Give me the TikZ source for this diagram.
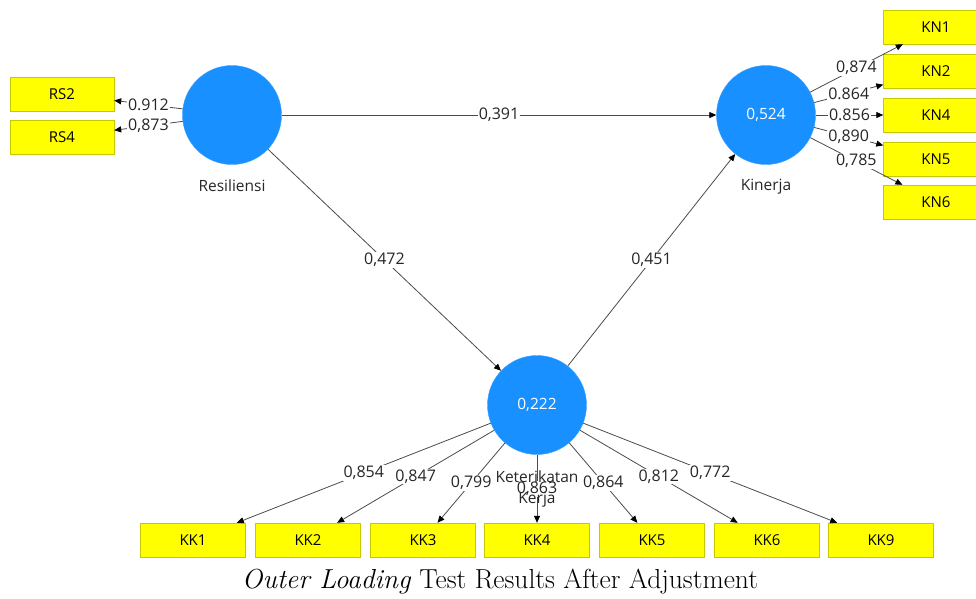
\documentclass[tikz,border=0pt]{standalone}
\usepackage{fontspec}
\newfontfamily\plsfont{Open Sans}
\usetikzlibrary{positioning,arrows.meta}
\definecolor{lvblue}{RGB}{24,144,255}
\definecolor{mvyellow}{RGB}{255,255,0}
\definecolor{mvborder}{RGB}{200,200,0}
\definecolor{pathgray}{RGB}{75,75,75}

\tikzset{
  latent/.style={circle, fill=lvblue, draw=lvblue!85!white, minimum size=99pt, inner sep=0pt,
    text=white, font=\plsfont\fontsize{15.5}{17}\selectfont},
  indicator/.style={rectangle, fill=mvyellow, draw=mvborder, minimum width=105pt, minimum height=34pt,
    inner sep=0pt, font=\plsfont\fontsize{15}{17}\selectfont},
  load/.style={fill=white, inner sep=1pt, text=black!85, font=\plsfont\fontsize{16}{18}\selectfont},
  lvname/.style={text=black!85, font=\plsfont\fontsize{15.5}{17}\selectfont},
  link/.style={draw=pathgray, line width=0.8pt, -{Triangle[length=7pt,width=6pt,color=black]}}
}

\begin{document}
\begin{tikzpicture}[x=1pt, y=-1pt]
        \path[use as bounding box, clip] (0,0) rectangle (976,598);
        % latent variables
        \node[latent] (res) at (232,115) {};
        \node[latent] (kin) at (766,115) {0,524};
        \node[latent] (ket) at (537,405) {0,222};
        % indicators
        \node[indicator, minimum width=104pt] (rs2) at (62,94) {RS2};
        \node[indicator, minimum width=104pt] (rs4) at (62,137) {RS4};
        \foreach \n/\y in {1/27,2/71,4/115,5/159,6/202} {
          \node[indicator] (kn\n) at (936,\y) {KN\n};
        }
        \foreach \n/\x in {1/193,2/308,3/423,4/537,5/652,6/767,9/881} {
          \node[indicator] (kk\n) at (\x,540) {KK\n};
        }
        % structural paths
        \draw[link] (res) -- node[load] {0,391} (kin);
        \draw[link] (res) -- node[load] {0,472} (ket);
        \draw[link] (ket) -- node[load] {0,451} (kin);
        % outer loadings
        \draw[link] (res) -- node[load] {0.912} (rs2);
        \draw[link] (res) -- node[load] {0,873} (rs4);
        \foreach \n/\v in {1/{0,874},2/{0.864},4/{0.856},5/{0,890},6/{0,785}} {
          \draw[link] (kin) -- node[load] {\v} (kn\n);
        }
        \foreach \n/\v in {1/{0,854},2/{0,847},3/{0,799},4/{0,863},5/{0,864},6/{0,812},9/{0,772}} {
          \draw[link] (ket) -- node[load] {\v} (kk\n);
        }
        % names
        \node[lvname] (resname) at (232,186) {Resiliensi};
        \node[lvname] (kinname) at (766,187) {Kinerja};
        \node[lvname] (ketname1) at (537,477) {Keterikatan};
        \node[lvname] (ketname2) at (537,500) {Kerja};
        % caption
        \node[font=\fontsize{27.5}{30}\selectfont] (caption) at (500,582)
          {\textit{Outer Loading} Test Results After Adjustment};
      \end{tikzpicture}
\end{document}
